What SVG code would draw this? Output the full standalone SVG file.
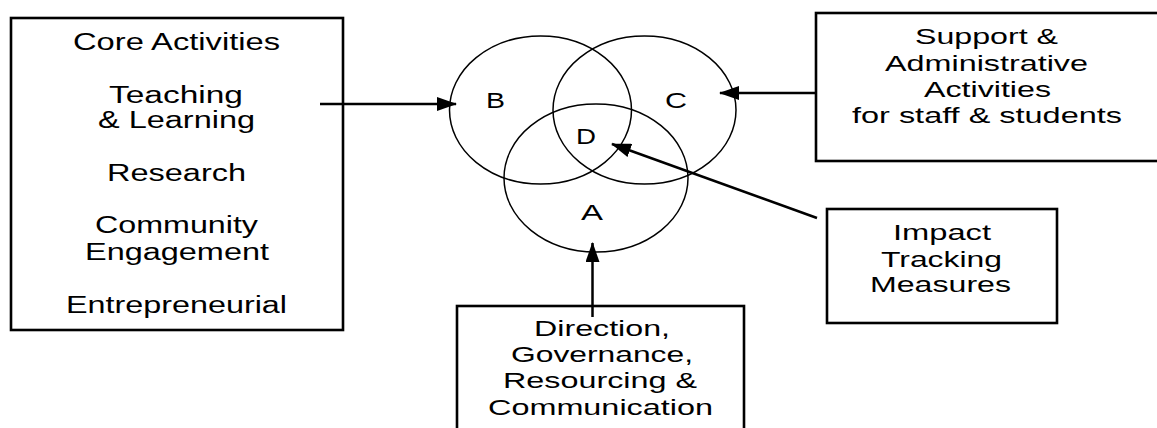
<svg xmlns="http://www.w3.org/2000/svg" width="1157" height="428" viewBox="0 0 1157 428">
<style>
.box{fill:#fff;stroke:#000;stroke-width:2.6}
.ring{fill:none;stroke:#000;stroke-width:1.5}
.t{font-family:"Liberation Sans",Arial,sans-serif;font-size:22px;fill:#000}
.big{font-size:23px}
.conn{stroke:#000;stroke-width:2.5;fill:none;marker-end:url(#ah)}
</style>
<defs>
<marker id="ah" markerUnits="userSpaceOnUse" markerWidth="20" markerHeight="14" refX="19" refY="7" orient="auto">
<path d="M0,0 L20,7 L0,14 z" fill="#000"/>
</marker>
</defs>
<rect width="1157" height="428" fill="#fff"/>
<g id="core">
<rect class="box" x="11" y="18" width="332" height="312"/>
<text class="t big" x="73" y="50" textLength="207" lengthAdjust="spacingAndGlyphs">Core Activities</text>
<text class="t big" x="109" y="103" textLength="134" lengthAdjust="spacingAndGlyphs">Teaching</text>
<text class="t big" x="98" y="128" textLength="157" lengthAdjust="spacingAndGlyphs">&amp; Learning</text>
<text class="t big" x="107" y="181" textLength="139" lengthAdjust="spacingAndGlyphs">Research</text>
<text class="t big" x="95" y="233" textLength="163" lengthAdjust="spacingAndGlyphs">Community</text>
<text class="t big" x="85" y="260" textLength="184" lengthAdjust="spacingAndGlyphs">Engagement</text>
<text class="t big" x="66" y="313" textLength="221" lengthAdjust="spacingAndGlyphs">Entrepreneurial</text>
</g>
<g id="support">
<rect class="box" x="816" y="13" width="350" height="148"/>
<text class="t" x="915" y="44" textLength="143" lengthAdjust="spacingAndGlyphs">Support &amp;</text>
<text class="t" x="885" y="71" textLength="203" lengthAdjust="spacingAndGlyphs">Administrative</text>
<text class="t" x="924" y="97" textLength="127" lengthAdjust="spacingAndGlyphs">Activities</text>
<text class="t" x="852" y="123" textLength="270" lengthAdjust="spacingAndGlyphs">for staff &amp; students</text>
</g>
<g id="impact">
<rect class="box" x="827" y="209" width="230" height="114"/>
<text class="t" x="893" y="240" textLength="98" lengthAdjust="spacingAndGlyphs">Impact</text>
<text class="t" x="881" y="267" textLength="121" lengthAdjust="spacingAndGlyphs">Tracking</text>
<text class="t" x="870" y="292" textLength="141" lengthAdjust="spacingAndGlyphs">Measures</text>
</g>
<g id="direction">
<rect class="box" x="457" y="306" width="287" height="130"/>
<text class="t" x="534" y="336" textLength="136" lengthAdjust="spacingAndGlyphs">Direction,</text>
<text class="t" x="511" y="362" textLength="182" lengthAdjust="spacingAndGlyphs">Governance,</text>
<text class="t" x="503" y="388" textLength="194" lengthAdjust="spacingAndGlyphs">Resourcing &amp;</text>
<text class="t" x="488" y="415" textLength="225" lengthAdjust="spacingAndGlyphs">Communication</text>
</g>
<g id="venn">
<g id="circleB">
<ellipse class="ring" cx="540.5" cy="110" rx="91" ry="74"/>
<text class="t" x="486" y="108" textLength="19" lengthAdjust="spacingAndGlyphs">B</text>
</g>
<g id="circleC">
<ellipse class="ring" cx="644.5" cy="110" rx="91.5" ry="74"/>
<text class="t" x="665" y="108" textLength="22" lengthAdjust="spacingAndGlyphs">C</text>
</g>
<g id="circleA">
<ellipse class="ring" cx="596" cy="178" rx="92" ry="74"/>
<text class="t" x="581" y="220" textLength="22" lengthAdjust="spacingAndGlyphs">A</text>
</g>
<g id="labelD">
<text class="t" x="576" y="144" textLength="20" lengthAdjust="spacingAndGlyphs">D</text>
</g>
</g>
<g id="connectors">
<line class="conn" x1="320" y1="104" x2="456" y2="104"/>
<line class="conn" x1="817" y1="93" x2="720" y2="93"/>
<line class="conn" x1="817" y1="218" x2="612" y2="144"/>
<line class="conn" x1="592.5" y1="317" x2="592.5" y2="243"/>
</g>
</svg>
